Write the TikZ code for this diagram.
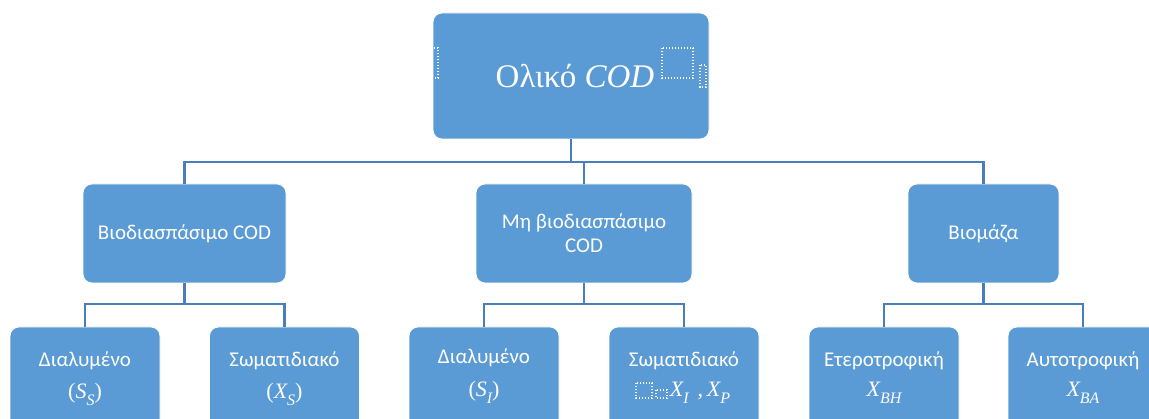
\documentclass[tikz,border=0pt]{standalone}
\usepackage{fontspec}
\setmainfont{Carlito}
\newfontfamily\serifgr{Liberation Serif}
\definecolor{boxblue}{HTML}{5B9BD5}
\definecolor{linkblue}{HTML}{4A7EBB}
% italic variable with a lowered subscript, Cambria-like serif
\newcommand{\var}[2]{{\serifgr\itshape #1}\raisebox{-0.28em}{\serifgr\itshape\fontsize{16}{16}\selectfont #2}}
\newcommand{\vparen}[1]{{\serifgr (}#1{\serifgr )}}
\begin{document}
\begin{tikzpicture}[x=1pt,y=-1pt,
  box/.style={rectangle, rounded corners=9pt, fill=boxblue, draw=white,
    line width=0.8pt, inner sep=0pt},
  lbl/.style={text=white, inner sep=0pt, font=\fontsize{21}{24}\selectfont},
  vlbl/.style={text=white, inner sep=0pt, font=\fontsize{22}{24}\selectfont},
  link/.style={draw=linkblue, line width=2.4pt},
  ph/.style={draw=white, line width=1.3pt, dash pattern=on 1.3pt off 1.7pt}]
\useasboundingbox (0,0) rectangle (1149,419);
\clip (0,0) rectangle (1149,419);

% top level
\node[box, minimum width=276pt, minimum height=126pt] (root) at (571,76) {};
\node[lbl, anchor=base, font=\fontsize{33}{38}\selectfont] (rootl) at (575,88)
  {{\serifgr Ολικό \itshape COD}};
\draw[ph] (405,48) rectangle (438,78);
\draw[ph] (662,48) rectangle (693,78);
\draw[ph] (700,65) rectangle (706,87);

% second level
\node[box, minimum width=203pt, minimum height=99pt] (b1) at (184.5,233.5) {};
\node[box, minimum width=216pt, minimum height=99pt] (b2) at (584,233.5) {};
\node[box, minimum width=151pt, minimum height=99pt] (b3) at (983.5,233.5) {};
\node[lbl] (b1l) at (b1) {Βιοδιασπάσιμο COD};
\node[lbl, align=center] (b2l) at (b2) {Μη βιοδιασπάσιμο\\COD};
\node[lbl] (b3l) at (b3) {Βιομάζα};

% third level
\foreach \n/\x in {c1/85, c2/284.5, c3/484, c4/684, c5/884, c6/1083}
  \node[box, minimum width=150pt, minimum height=130pt] (\n) at (\x,392) {};

\node[lbl, anchor=base] (c1a) at (85,367) {Διαλυμένο};
\node[vlbl, anchor=base] (c1b) at (85,399) {\vparen{\var{S}{S}}};
\node[lbl, anchor=base] (c2a) at (284.5,367) {Σωματιδιακό};
\node[vlbl, anchor=base] (c2b) at (284.5,399) {\vparen{\var{X}{S}}};
\node[lbl, anchor=base] (c3a) at (484,364) {Διαλυμένο};
\node[vlbl, anchor=base] (c3b) at (484,397) {\vparen{\var{S}{I}}};
\node[lbl, anchor=base] (c4a) at (684,367) {Σωματιδιακό};
\node[vlbl, anchor=base] (c4b) at (700,397) {\var{X}{I}\hspace{9pt}{\serifgr ,}\,\var{X}{P}};
\draw[ph] (636,383) rectangle (652,398);
\draw[ph] (656,390) rectangle (667,398);
\node[lbl, anchor=base] (c5a) at (884,367) {Ετεροτροφική};
\node[vlbl, anchor=base] (c5b) at (884,397) {\var{X}{BH}};
\node[lbl, anchor=base] (c6a) at (1083,367) {Αυτοτροφική};
\node[vlbl, anchor=base] (c6b) at (1083,397) {\var{X}{BA}};

% connectors
\coordinate (busA) at (0,162);
\draw[link] (root.south) -- (root.south |- busA);
\draw[link] (b1.north) -- (b1.north |- busA) -- (b3.north |- busA) -- (b3.north);
\draw[link] (b2.north) -- (b2.north |- busA);

\coordinate (busB) at (0,304);
\draw[link] (b1.south) -- (b1.south |- busB);
\draw[link] (c1.north) -- (c1.north |- busB) -- (c2.north |- busB) -- (c2.north);
\draw[link] (b2.south) -- (b2.south |- busB);
\draw[link] (c3.north) -- (c3.north |- busB) -- (c4.north |- busB) -- (c4.north);
\draw[link] (b3.south) -- (b3.south |- busB);
\draw[link] (c5.north) -- (c5.north |- busB) -- (c6.north |- busB) -- (c6.north);
\end{tikzpicture}
\end{document}
